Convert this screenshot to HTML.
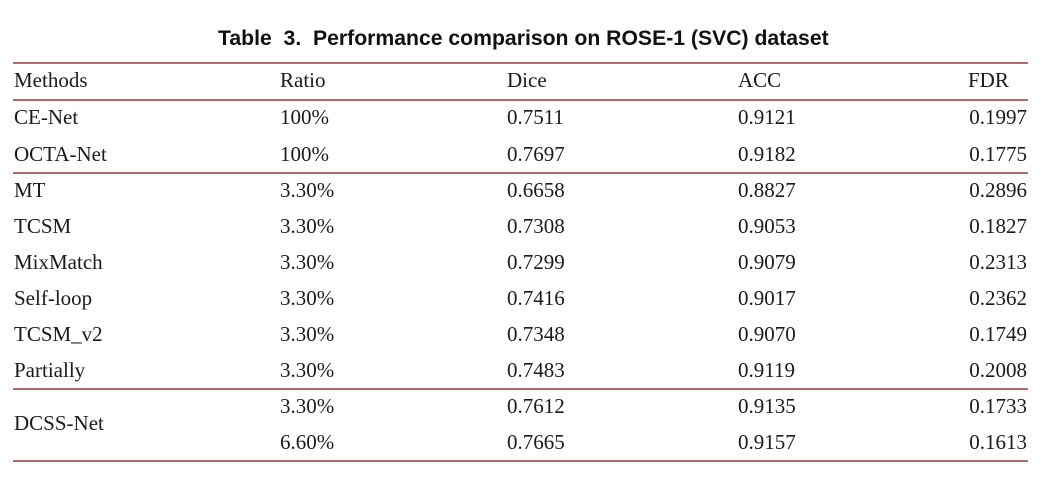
<!DOCTYPE html>
<html><head><meta charset="utf-8"><style>
body{margin:0;width:1048px;height:485px;background:#fff;position:relative;overflow:hidden;font-family:"Liberation Serif",serif;color:#1a1a1a}
.t{position:absolute;left:218px;top:27px;font:bold 21.2px "Liberation Sans",sans-serif;white-space:pre;color:#111}
.l{position:absolute;left:13px;width:1015px;height:1.5px;background:#b56a6a}
.c{position:absolute;font-size:21px;line-height:24px;height:24px;white-space:nowrap}
.r{text-align:right;width:100px}
</style></head><body>
<div class="t">Table  3.  Performance comparison on ROSE-1 (SVC) dataset</div>
<div class="l" style="top:62px"></div>
<div class="l" style="top:99px"></div>
<div class="l" style="top:172px"></div>
<div class="l" style="top:388px"></div>
<div class="l" style="top:460px"></div>
<div class="c" style="left:14px;top:68px">Methods</div><div class="c" style="left:280px;top:68px">Ratio</div><div class="c" style="left:507px;top:68px">Dice</div><div class="c" style="left:738px;top:68px">ACC</div><div class="c" style="left:968px;top:68px">FDR</div>
<div class="c" style="left:14px;top:105px">CE-Net</div><div class="c" style="left:280px;top:105px">100%</div><div class="c" style="left:507px;top:105px">0.7511</div><div class="c" style="left:738px;top:105px">0.9121</div><div class="c r" style="left:927px;top:105px">0.1997</div>
<div class="c" style="left:14px;top:142px">OCTA-Net</div><div class="c" style="left:280px;top:142px">100%</div><div class="c" style="left:507px;top:142px">0.7697</div><div class="c" style="left:738px;top:142px">0.9182</div><div class="c r" style="left:927px;top:142px">0.1775</div>
<div class="c" style="left:14px;top:178px">MT</div><div class="c" style="left:280px;top:178px">3.30%</div><div class="c" style="left:507px;top:178px">0.6658</div><div class="c" style="left:738px;top:178px">0.8827</div><div class="c r" style="left:927px;top:178px">0.2896</div>
<div class="c" style="left:14px;top:214px">TCSM</div><div class="c" style="left:280px;top:214px">3.30%</div><div class="c" style="left:507px;top:214px">0.7308</div><div class="c" style="left:738px;top:214px">0.9053</div><div class="c r" style="left:927px;top:214px">0.1827</div>
<div class="c" style="left:14px;top:250px">MixMatch</div><div class="c" style="left:280px;top:250px">3.30%</div><div class="c" style="left:507px;top:250px">0.7299</div><div class="c" style="left:738px;top:250px">0.9079</div><div class="c r" style="left:927px;top:250px">0.2313</div>
<div class="c" style="left:14px;top:286px">Self-loop</div><div class="c" style="left:280px;top:286px">3.30%</div><div class="c" style="left:507px;top:286px">0.7416</div><div class="c" style="left:738px;top:286px">0.9017</div><div class="c r" style="left:927px;top:286px">0.2362</div>
<div class="c" style="left:14px;top:322px">TCSM_v2</div><div class="c" style="left:280px;top:322px">3.30%</div><div class="c" style="left:507px;top:322px">0.7348</div><div class="c" style="left:738px;top:322px">0.9070</div><div class="c r" style="left:927px;top:322px">0.1749</div>
<div class="c" style="left:14px;top:358px">Partially</div><div class="c" style="left:280px;top:358px">3.30%</div><div class="c" style="left:507px;top:358px">0.7483</div><div class="c" style="left:738px;top:358px">0.9119</div><div class="c r" style="left:927px;top:358px">0.2008</div>
<div class="c" style="left:14px;top:411px">DCSS-Net</div>
<div class="c" style="left:280px;top:394px">3.30%</div><div class="c" style="left:507px;top:394px">0.7612</div><div class="c" style="left:738px;top:394px">0.9135</div><div class="c r" style="left:927px;top:394px">0.1733</div>
<div class="c" style="left:280px;top:430px">6.60%</div><div class="c" style="left:507px;top:430px">0.7665</div><div class="c" style="left:738px;top:430px">0.9157</div><div class="c r" style="left:927px;top:430px">0.1613</div>
</body></html>
